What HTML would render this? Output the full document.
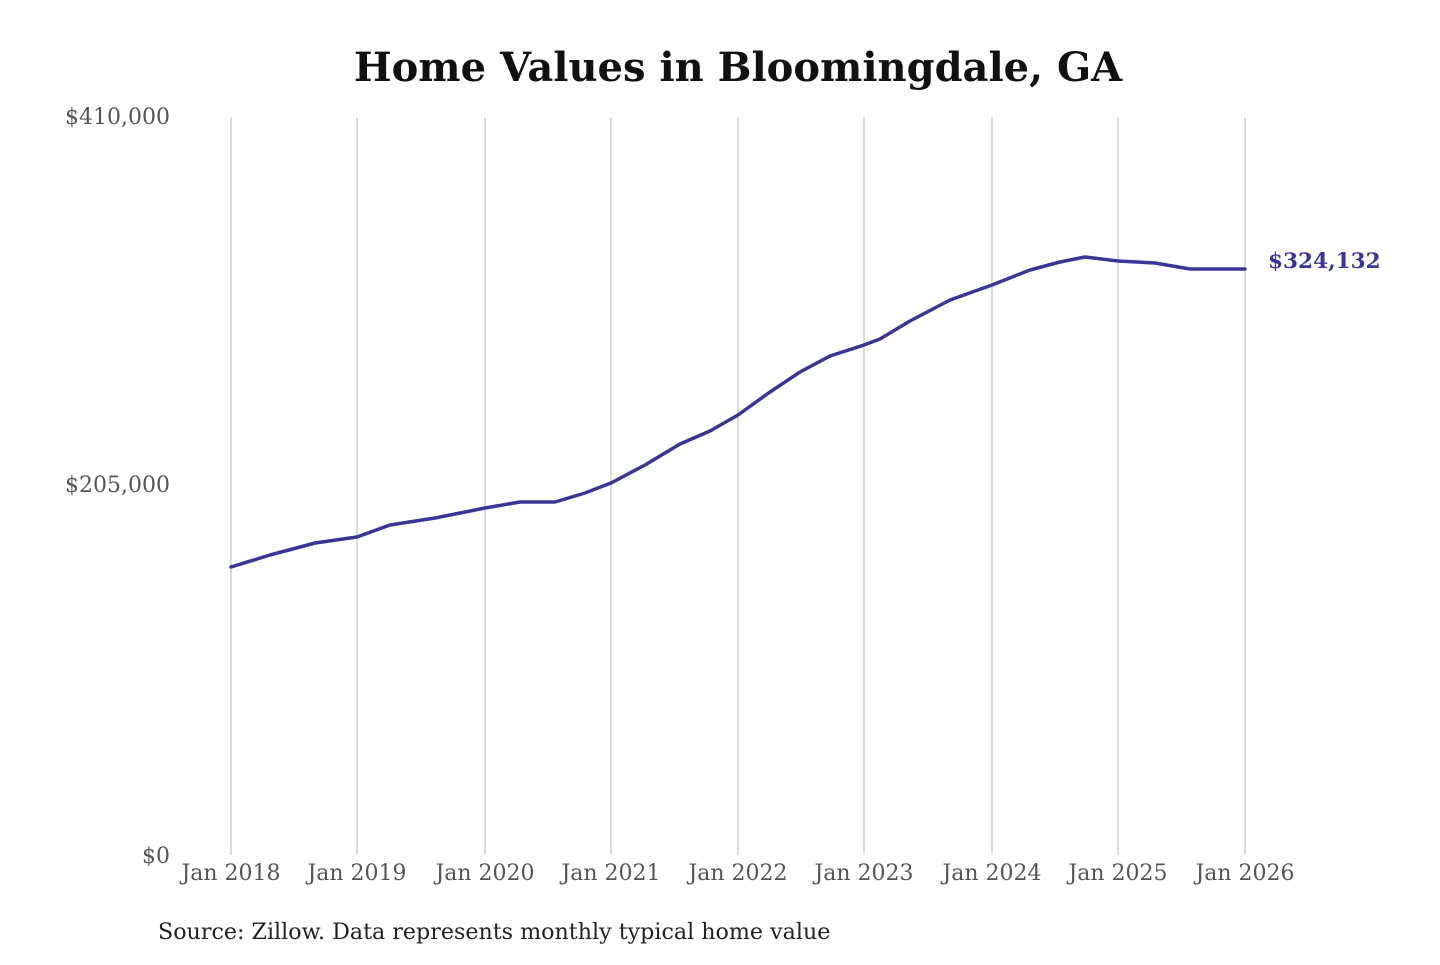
<!DOCTYPE html>
<html><head><meta charset="utf-8"><style>
body{margin:0;background:#fff;}
</style></head><body>
<svg width="1440" height="960" xmlns="http://www.w3.org/2000/svg" font-family="'DejaVu Serif', serif">
<rect width="1440" height="960" fill="#fff"/>
<text x="738" y="81" text-anchor="middle" font-size="40" font-weight="bold" fill="#111">Home Values in Bloomingdale, GA</text>
<g stroke="#c8c8c8" stroke-width="1.3">
<line x1="231" y1="117" x2="231" y2="855"/><line x1="357" y1="117" x2="357" y2="855"/>
<line x1="485" y1="117" x2="485" y2="855"/><line x1="611" y1="117" x2="611" y2="855"/>
<line x1="738" y1="117" x2="738" y2="855"/><line x1="864" y1="117" x2="864" y2="855"/>
<line x1="992" y1="117" x2="992" y2="855"/><line x1="1118" y1="117" x2="1118" y2="855"/>
<line x1="1245" y1="117" x2="1245" y2="855"/>
</g>
<g font-size="22" fill="#555" text-anchor="end">
<text x="170" y="124">$410,000</text>
<text x="170" y="492">$205,000</text>
<text x="170" y="863">$0</text>
</g>
<g font-size="22" fill="#555" text-anchor="middle">
<text x="231" y="880">Jan 2018</text><text x="357" y="880">Jan 2019</text>
<text x="485" y="880">Jan 2020</text><text x="611" y="880">Jan 2021</text>
<text x="738" y="880">Jan 2022</text><text x="864" y="880">Jan 2023</text>
<text x="992" y="880">Jan 2024</text><text x="1118" y="880">Jan 2025</text>
<text x="1245" y="880">Jan 2026</text>
</g>
<polyline fill="none" stroke="#3b3598" stroke-width="3.5" stroke-linejoin="round" stroke-linecap="round"
points="231,567 270,555 315,543 357,537 390,525 435,518 485,508 520,502 555,502 585,493 611,483 645,465 680,444 710,431 738,415 770,392 800,372 830,356 864,345 880,339 910,321 950,300 992,285 1030,270 1060,262 1085,257 1118,261 1155,263 1190,269 1245,269"/>
<text x="1268" y="268" font-size="21.6" font-weight="bold" fill="#3b3598">$324,132</text>
<text x="158" y="939" font-size="22.2" fill="#222">Source: Zillow. Data represents monthly typical home value</text>
</svg>
</body></html>
